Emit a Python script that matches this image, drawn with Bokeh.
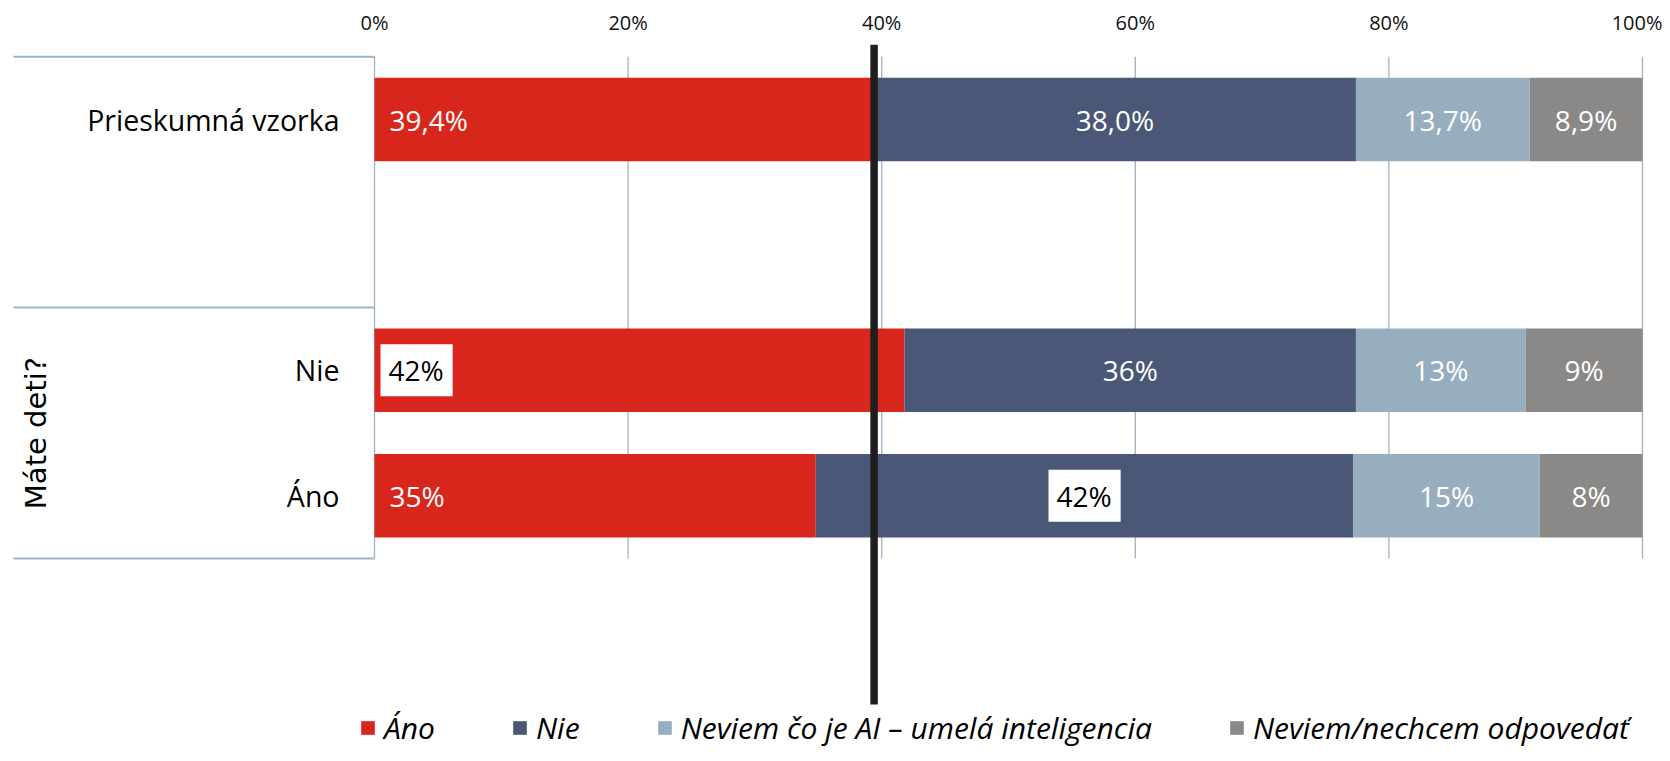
import math
from bokeh.plotting import figure
from bokeh.models import Range1d, FixedTicker, Legend, LegendItem
from bokeh.core.properties import value
from bokeh.embed import file_html
from bokeh.resources import INLINE

# ---------------- data ----------------
rows = ["Prieskumná vzorka", "Nie", "Áno"]
row_slots = [0, 2, 3]                      # slot 1 is an empty gap
group_label = "Máte deti?"
group_slots = [2, 3]
series = ["Áno", "Nie", "Neviem čo je AI – umelá inteligencia", "Neviem/nechcem odpovedať"]
ano = [39.4, 41.8, 34.8]
nie = [38.0, 35.6, 42.4]
neviem_ai = [13.7, 13.4, 14.7]
neviem_odp = [8.9, 9.2, 8.1]
label_decimals = [1, 0, 0]
ano_boxed = [False, True, False]
nie_boxed = [False, False, True]
ai_boxed = [False, False, False]
odp_boxed = [False, False, False]
tick_values = [0, 20, 40, 60, 80, 100]
tick_labels = ["0%", "20%", "40%", "60%", "80%", "100%"]
reference_value = ano[0]

colors = ["#D9261C", "#4A5776", "#97AEBE", "#8A8987"]
grid_color = "#9EB3C6"
FONT = "Open Sans"

# ---------------- layout (px) ----------------
FIG_W, FIG_H = 1662, 753
TOP = 44                      # frame top inside figure
X0_PX, X100_PX = 374, 1642    # screen px of 0% and 100%
ppu = (X100_PX - X0_PX) / 100.0
SLOT_PX = 125.4
SLOT0_PX = 119.0              # centre of slot 0 (figure px)
LINE_BOTTOM_PX = 704

def ydat(px):
    return (px - SLOT0_PX) / SLOT_PX

def xdat(px):
    return (px - X0_PX) / ppu

x_range = Range1d(xdat(0), xdat(FIG_W))
y_range = Range1d(ydat(FIG_H), ydat(TOP))   # flipped: slot 0 at top

p = figure(width=FIG_W, height=FIG_H, x_range=x_range, y_range=y_range,
           output_backend="svg", toolbar_location=None,
           x_axis_location="above", y_axis_location=None,
           min_border_left=0, min_border_right=0, min_border_bottom=0,
           min_border_top=TOP)
p.outline_line_color = None
p.grid.visible = False
p.background_fill_color = "white"
p.border_fill_color = "white"

ax = p.xaxis[0]
ax.ticker = FixedTicker(ticks=tick_values)
ax.major_label_overrides = {float(v): t for v, t in zip(tick_values, tick_labels)}
ax.major_label_text_font = FONT
ax.major_label_text_font_size = "20px"
ax.major_label_text_color = "#111111"
ax.major_label_standoff = 3
ax.axis_line_color = None
ax.major_tick_line_color = None
ax.minor_tick_line_color = None

top_y = row_slots[0] - 0.5
bot_y = row_slots[-1] + 0.5
gap_y = group_slots[0] - 0.5

# gridlines (incl. 0% axis line)
p.segment(x0=tick_values, x1=tick_values, y0=[top_y] * len(tick_values),
          y1=[bot_y] * len(tick_values), line_color=grid_color, line_width=1.3)
# left table separators
left_x = xdat(13)
p.segment(x0=[left_x] * 3, x1=[0] * 3, y0=[top_y, gap_y, bot_y], y1=[top_y, gap_y, bot_y],
          line_color=grid_color, line_width=2)

# stacked bars
stack = [ano, nie, neviem_ai, neviem_odp]
boxes = [ano_boxed, nie_boxed, ai_boxed, odp_boxed]
renderers = []
left = [0.0] * len(rows)
label_info = []
for vals, col, bx in zip(stack, colors, boxes):
    right = [l + v for l, v in zip(left, vals)]
    r = p.hbar(y=row_slots, left=left, right=right, height=0.666,
               fill_color=col, line_color=None)
    renderers.append(r)
    label_info.append((list(left), list(right), vals, bx))
    left = right

# reference line at sample value
p.segment(x0=[reference_value], x1=[reference_value], y0=[ydat(TOP)], y1=[ydat(LINE_BOTTOM_PX)],
          line_color="#1E1E1E", line_width=7.5)

def fmt(v, d):
    return (f"{v:.{d}f}%").replace(".", ",")

for si, (lft, rgt, vals, bx) in enumerate(label_info):
    for ri in range(len(rows)):
        txt = fmt(vals[ri], label_decimals[ri])
        if si == 0:
            x, align = lft[ri], "left"
            xo = 6 if bx[ri] else 15
        else:
            x, align, xo = (lft[ri] + rgt[ri]) / 2.0, "center", 0
        kw = dict(text_font=value(FONT), text_font_size=value("28px"),
                  text_align=align, text_baseline="middle", x_offset=xo)
        if bx[ri]:
            p.text(x=[x], y=[row_slots[ri]], text=[txt], text_color="black",
                   background_fill_color="white",
                   padding=dict(left=8, right=9, top=7, bottom=7), **kw)
        else:
            p.text(x=[x], y=[row_slots[ri]], text=[txt], text_color="white", **kw)

# category labels
p.text(x=[xdat(339)] * len(rows), y=row_slots, text=rows, text_font=value(FONT),
       text_font_size=value("28.5px"), text_align="right", text_baseline="middle",
       text_color="black")
# group label
p.text(x=[xdat(35)], y=[sum(group_slots) / len(group_slots)], text=[group_label],
       text_font=value("DejaVu Sans"), text_font_size=value("29px"),
       text_align="center", text_baseline="middle", angle=math.pi / 2,
       text_color="black")

legend = Legend(items=[LegendItem(label=s, renderers=[r]) for s, r in zip(series, renderers)],
                orientation="horizontal", location=(359, 5),
                label_text_font=FONT, label_text_font_size="30px",
                label_text_font_style="italic", label_text_color="black",
                glyph_width=17, glyph_height=17, label_standoff=8, spacing=76,
                padding=0, margin=0, border_line_color=None,
                background_fill_alpha=0)
p.add_layout(legend)

open("out.html", "w").write(file_html(p, INLINE))
